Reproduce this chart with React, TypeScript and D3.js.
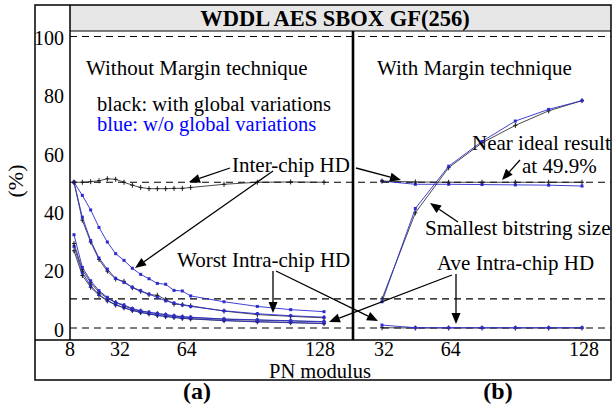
import React from 'react';
import * as d3 from 'd3';

// PN modulus values at which each bitstring size was measured
const leftPN = [8, 12, 16, 20, 24, 28, 32, 36, 40, 44, 48, 52, 56, 60, 64, 80, 96, 112, 128];
const rightPN = [32, 48, 64, 80, 96, 112, 128];

// (a) Without Margin technique
const leftInterBlack = [50, 50, 50.2, 50.5, 51.2, 51, 50, 49, 48.2, 47.8, 47.8, 47.8, 47.9, 47.9, 48.2, 49.3, 50, 50.1, 50];
const leftWorstBlueA = [50, 45.5, 40.5, 34.5, 29.5, 25.5, 23.2, 20.5, 18.4, 16.9, 15.3, 15, 12.9, 12.7, 11, 9, 7.4, 6.3, 5.6];
const leftWorstBlueB = [50, 38, 30, 24, 20.2, 17, 15.6, 14, 12.8, 11.6, 10.5, 9.3, 8.6, 7.9, 7.4, 5.9, 4.9, 4.2, 3.7];
const leftWorstBlackB = [50, 37, 29.5, 23.5, 19.5, 16.8, 16, 13.8, 12.6, 11.5, 11.2, 9.8, 8.2, 8, 7.6, 5.8, 4.6, 4, 3.5];
const leftAveBlueA = [32, 20.8, 16.2, 12.8, 10.5, 8.8, 7.9, 6.7, 5.9, 5.4, 5, 4.6, 4.2, 3.9, 3.7, 3.1, 2.8, 2.5, 2.2];
const leftAveBlackA = [29, 20, 15.5, 12.3, 10.2, 8.7, 7.6, 6.5, 5.8, 5.3, 4.9, 4.5, 4.1, 3.8, 3.6, 3, 2.7, 2.4, 2.1];
const leftAveBlueB = [28, 19, 14.5, 11.5, 9.5, 8, 7, 6.1, 5.4, 4.9, 4.4, 4, 3.7, 3.4, 3.2, 2.6, 2.2, 1.9, 1.6];
const leftAveBlackB = [26.5, 18, 14, 11.2, 9.3, 7.9, 6.9, 6, 5.3, 4.8, 4.3, 3.9, 3.6, 3.3, 3.1, 2.5, 2.1, 1.8, 1.5];

// (b) With Margin technique
const rightInterBlack = [50.4, 50.1, 50, 50, 50, 50, 50];
const rightInterBlue = [50.4, 49.3, 49.3, 49.2, 49.1, 49, 48.7];
const rightSizeBlack = [10, 39.5, 55, 63.5, 69.5, 74.5, 78];
const rightSizeBlue = [9, 41, 55.5, 64, 71, 75, 78];
const rightAveBlack = [0.1, 0, 0, 0, 0, 0, 0];
const rightAveBlue = [1, 0.1, 0.1, 0.1, 0.1, 0.1, 0.1];

const yTicks = [0, 20, 40, 60, 80, 100];
const dashedLevels = [0, 10, 50, 100];
const leftTicks = [8, 32, 64, 128];
const rightTicks = [32, 64, 128];

const BLUE = '#2b2bd0';
const BLACK = '#1a1a1a';
const FONT = '"Liberation Serif", "Times New Roman", serif';

function Arrow({ x1, y1, x2, y2 }: { x1: number; y1: number; x2: number; y2: number }) {
  const a = Math.atan2(y2 - y1, x2 - x1);
  const len = 11, hw = 4.5;
  const bx = x2 - len * Math.cos(a), by = y2 - len * Math.sin(a);
  const px = -Math.sin(a) * hw, py = Math.cos(a) * hw;
  return (
    <g>
      <line x1={x1} y1={y1} x2={bx} y2={by} stroke="#000" strokeWidth={1.3} />
      <path d={`M${x2},${y2}L${bx + px},${by + py}L${bx - px},${by - py}Z`} fill="#000" />
    </g>
  );
}

export default function App() {
  const xL = d3.scaleLinear().domain([8, 128]).range([74, 324]);
  const xR = d3.scaleLinear().domain([32, 128]).range([382, 582]);
  const y = d3.scaleLinear().domain([0, 100]).range([328, 36.5]);

  const series = [
    { sx: xL, pn: leftPN, v: leftAveBlackB, c: 'black' },
    { sx: xL, pn: leftPN, v: leftAveBlueB, c: 'blue' },
    { sx: xL, pn: leftPN, v: leftAveBlackA, c: 'black' },
    { sx: xL, pn: leftPN, v: leftAveBlueA, c: 'blue' },
    { sx: xL, pn: leftPN, v: leftWorstBlackB, c: 'black' },
    { sx: xL, pn: leftPN, v: leftWorstBlueB, c: 'blue' },
    { sx: xL, pn: leftPN, v: leftWorstBlueA, c: 'blue' },
    { sx: xL, pn: leftPN, v: leftInterBlack, c: 'black' },
    { sx: xR, pn: rightPN, v: rightInterBlue, c: 'blue' },
    { sx: xR, pn: rightPN, v: rightInterBlack, c: 'black' },
    { sx: xR, pn: rightPN, v: rightSizeBlack, c: 'black' },
    { sx: xR, pn: rightPN, v: rightSizeBlue, c: 'blue' },
    { sx: xR, pn: rightPN, v: rightAveBlack, c: 'black' },
    { sx: xR, pn: rightPN, v: rightAveBlue, c: 'blue' },
  ];

  const textStyle = { fontFamily: FONT, fontSize: 21 };
  const legendStyle = { fontFamily: FONT, fontSize: 20.5 };
  const tickStyle = { fontFamily: FONT, fontSize: 20 };

  return (
    <svg width={613} height={412} style={{ position: 'absolute', left: 0, top: 0, background: '#fff' }}>
      {/* title band */}
      <rect x={70} y={5} width={541} height={26} fill="#e6e6e6" />
      <text x={335} y={26} textAnchor="middle" fontFamily={FONT} fontSize={22.5} fontWeight="bold">
        WDDL AES SBOX GF(256)
      </text>

      {/* dashed reference levels */}
      {dashedLevels.map(d => (
        <line key={d} x1={70} x2={611} y1={y(d)} y2={y(d)} stroke="#000" strokeWidth={1.2} strokeDasharray="7,5" />
      ))}

      {/* curves */}
      {series.map((s, i) => {
        const line = d3.line<number>().x((_, j) => s.sx(s.pn[j])).y(d => y(d));
        const col = s.c === 'blue' ? BLUE : BLACK;
        return (
          <g key={i}>
            <path d={line(s.v) || ''} fill="none" stroke={col} strokeWidth={s.c === 'blue' ? 0.9 : 0.8} />
            {s.v.map((d, j) => {
              const cx = s.sx(s.pn[j]), cy = y(d);
              return s.c === 'blue'
                ? <rect key={j} x={cx - 1.5} y={cy - 1.5} width={3} height={3} fill={BLUE} />
                : <path key={j} d={`M${cx},${cy - 2.5}V${cy + 2.5}M${cx - 2},${cy}H${cx + 2}`} stroke={BLACK} strokeWidth={1} />;
            })}
          </g>
        );
      })}

      {/* frame */}
      <rect x={35} y={5} width={576} height={375} fill="none" stroke="#000" strokeWidth={1.5} />
      <line x1={70} x2={70} y1={5} y2={340} stroke="#000" strokeWidth={1.5} />
      <line x1={70} x2={611} y1={31} y2={31} stroke="#000" strokeWidth={1.2} />
      <line x1={35} x2={611} y1={340} y2={340} stroke="#000" strokeWidth={1.5} />
      <line x1={353} x2={353} y1={31} y2={340} stroke="#000" strokeWidth={2.6} />

      {/* y axis */}
      {yTicks.map(t => (
        <text key={t} x={64} y={y(t) + 8.5} textAnchor="end" {...tickStyle}>{t}</text>
      ))}
      <text transform="translate(23,181) rotate(-90)" textAnchor="middle" fontFamily={FONT} fontSize={22}>(%)</text>

      {/* x axis */}
      {leftTicks.map(t => (
        <text key={'l' + t} x={xL(t) - 4} y={356} textAnchor="middle" {...tickStyle}>{t}</text>
      ))}
      {rightTicks.map(t => (
        <text key={'r' + t} x={xR(t) + 2} y={356} textAnchor="middle" {...tickStyle}>{t}</text>
      ))}
      <text x={320} y={378} textAnchor="middle" fontFamily={FONT} fontSize={20.5}>PN modulus</text>
      <text x={197} y={399} textAnchor="middle" fontFamily={FONT} fontSize={24} fontWeight="bold">(a)</text>
      <text x={498} y={399} textAnchor="middle" fontFamily={FONT} fontSize={24} fontWeight="bold">(b)</text>

      {/* annotations */}
      <text x={86} y={75} {...textStyle}>Without Margin technique</text>
      <text x={377} y={75} {...textStyle}>With Margin technique</text>
      <text x={97} y={111} {...legendStyle}>black: with global variations</text>
      <text x={97} y={131} {...legendStyle} fill="#0000ff">blue: w/o global variations</text>
      <text x={232} y={172} {...textStyle}>Inter-chip HD</text>
      <text x={472} y={150} {...textStyle}>Near ideal result</text>
      <text x={522} y={173} {...textStyle}>at 49.9%</text>
      <text x={425} y={235} {...textStyle}>Smallest bitstring size</text>
      <text x={177} y={267} {...textStyle}>Worst Intra-chip HD</text>
      <text x={437} y={270} {...textStyle}>Ave Intra-chip HD</text>

      <Arrow x1={230} y1={168} x2={189} y2={182} />
      <Arrow x1={273} y1={171} x2={135} y2={268} />
      <Arrow x1={356} y1={168} x2={401} y2={180} />
      <Arrow x1={520} y1={160} x2={502} y2={180} />
      <Arrow x1={458} y1={222} x2={430} y2={203} />
      <Arrow x1={273} y1={271} x2={273} y2={313} />
      <Arrow x1={276} y1={271} x2={378} y2={321} />
      <Arrow x1={456} y1={274} x2={456} y2={324} />
      <Arrow x1={452} y1={275} x2={329} y2={322} />
    </svg>
  );
}
